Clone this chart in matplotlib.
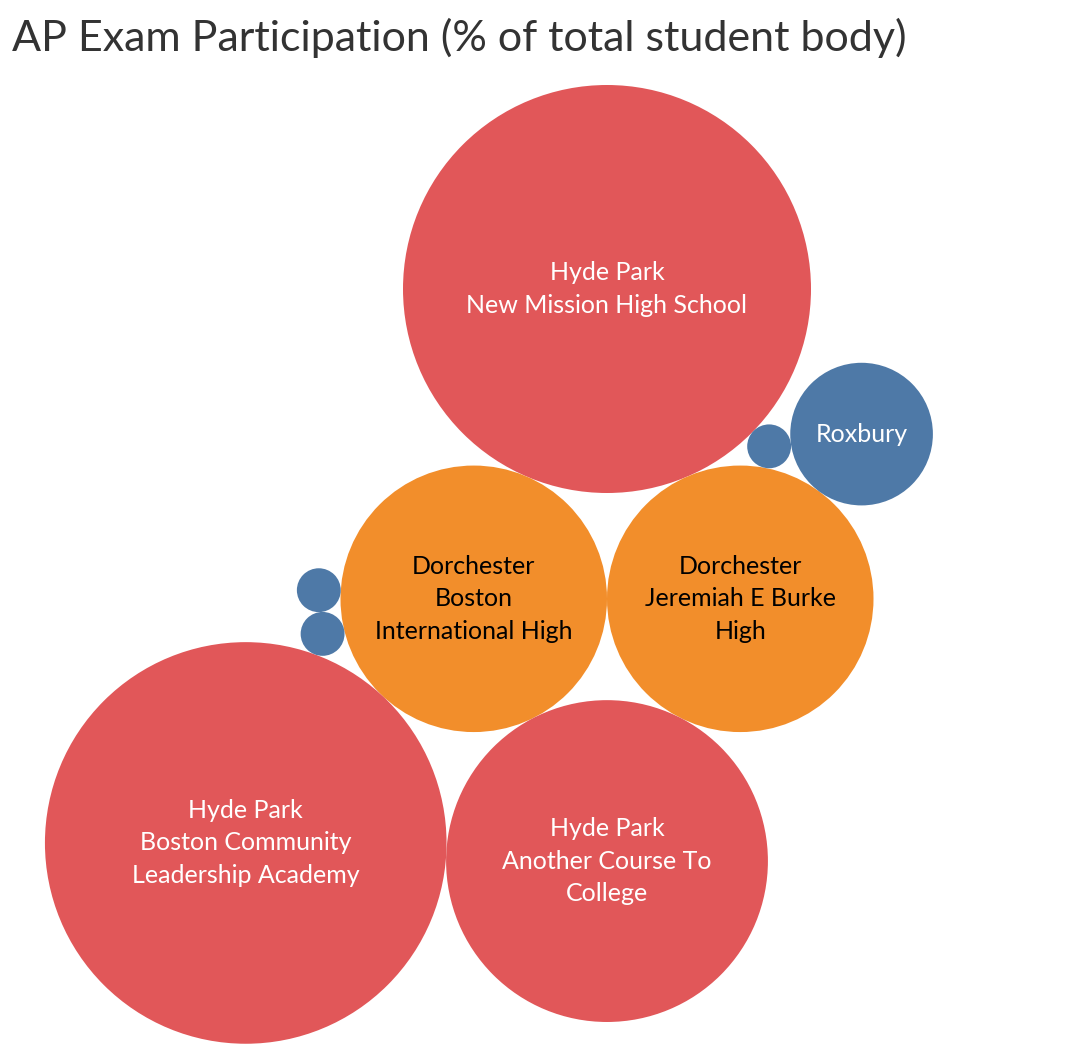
import numpy as np
import matplotlib.pyplot as plt
from matplotlib.patches import Circle

# data: one bubble per school, sized by AP exam participation (%)
neighborhoods = ["Hyde Park", "Dorchester", "Dorchester", "Hyde Park", "Hyde Park",
                 "Roxbury", "Roxbury", "Roxbury", "Roxbury"]
schools = ["New Mission High School", "Boston\nInternational High", "Jeremiah E Burke\nHigh",
           "Another Course To\nCollege", "Boston Community\nLeadership Academy",
           "", "", "", ""]
participation = [45.0, 19.2, 19.2, 28.0, 43.6, 0.52, 5.5, 0.52, 0.52]

colors = {"Hyde Park": "#E15759", "Dorchester": "#F28E2B", "Roxbury": "#4E79A7"}
text_colors = {"Hyde Park": "white", "Dorchester": "black", "Roxbury": "white"}

plt.rcParams["font.family"] = ["Lato", "DejaVu Sans"]

scale = 204 / np.sqrt(45.0)
radii = [scale * np.sqrt(v) for v in participation]


def tangent(c1, r1, c2, r2, r, pick):
    # centre of a circle of radius r touching two placed circles
    p1, p2 = np.array(c1), np.array(c2)
    d1, d2 = r1 + r, r2 + r
    D = np.linalg.norm(p2 - p1)
    u = (p2 - p1) / D
    a = (d1 ** 2 - d2 ** 2 + D ** 2) / (2 * D)
    h = np.sqrt(max(d1 ** 2 - a ** 2, 0))
    perp = np.array([-u[1], u[0]])
    cands = [p1 + a * u + h * perp, p1 + a * u - h * perp]
    keyf = {"left": lambda p: p[0], "right": lambda p: -p[0],
            "up": lambda p: p[1], "down": lambda p: -p[1]}[pick]
    return min(cands, key=keyf)


# packing: each bubble is placed touching earlier ones (y grows downward)
c = [None] * len(radii)
c[0] = np.array([0.0, 0.0])
bx = -(radii[1] + radii[2]) / 2
c[1] = np.array([bx, np.sqrt((radii[0] + radii[1]) ** 2 - bx ** 2)])
c[2] = tangent(c[0], radii[0], c[1], radii[1], radii[2], "right")
c[3] = tangent(c[1], radii[1], c[2], radii[2], radii[3], "down")
c[4] = tangent(c[1], radii[1], c[3], radii[3], radii[4], "left")
c[5] = tangent(c[0], radii[0], c[2], radii[2], radii[5], "right")
c[6] = tangent(c[2], radii[2], c[5], radii[5], radii[6], "right")
c[7] = tangent(c[1], radii[1], c[4], radii[4], radii[7], "left")
c[8] = tangent(c[1], radii[1], c[7], radii[7], radii[8], "up")

fig = plt.figure(figsize=(10.76, 10.54), dpi=100)
ax = fig.add_axes([0, 0, 1, 1])
ax.set_xlim(-607, 1076 - 607)
ax.set_ylim(1054 - 289, -289)
ax.set_aspect("equal")
ax.axis("off")

for i, r in enumerate(radii):
    nb = neighborhoods[i]
    ax.add_patch(Circle(c[i], r, facecolor=colors[nb], edgecolor="none"))
    if r > 40:
        label = nb if i == 6 else nb + "\n" + schools[i]
        ax.text(c[i][0], c[i][1], label, ha="center", va="center",
                fontsize=18, color=text_colors[nb], linespacing=1.5)

fig.text(12 / 1076, 1 - 38 / 1054, "AP Exam Participation (% of total student body)",
         fontsize=31, color="#333333", fontweight="normal", ha="left", va="center")

fig.savefig("out.png", dpi=100)
